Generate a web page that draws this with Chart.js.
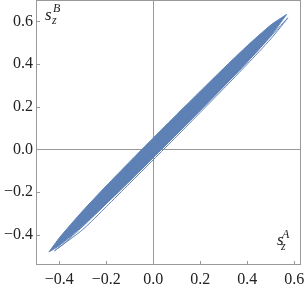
<!DOCTYPE html>
<html>
<head>
<meta charset="utf-8">
<script src="https://cdn.jsdelivr.net/npm/chart.js@4"></script>
<style>
	body { margin: 0; background: #fff; }
	#wrap { width: 306px; height: 290px; }
</style>
</head>
<body>
<div id="wrap"><canvas id="plot"></canvas></div>
<script>
// ticks
const xTicks = [-0.4, -0.2, 0.0, 0.2, 0.4, 0.6];
const yTicks = [-0.4, -0.2, 0.0, 0.2, 0.4, 0.6];

// dense core of the band (upper / lower edge)
const coreX = [-0.444, -0.40, -0.30, -0.20, -0.10, 0.00, 0.10, 0.20, 0.30, 0.40, 0.50, 0.568];
const coreUpperY = [-0.480, -0.414, -0.287, -0.170, -0.057, 0.054, 0.164, 0.273, 0.381, 0.486, 0.583, 0.633];
const coreLowerY = [-0.480, -0.450, -0.357, -0.254, -0.147, -0.038, 0.072, 0.183, 0.295, 0.410, 0.533, 0.633];

// thin outer loop below the core
const loopX = [-0.385, -0.42, -0.30, -0.20, -0.10, 0.00, 0.10, 0.20, 0.30, 0.40, 0.50, 0.573, 0.50, 0.40, 0.30, 0.20, 0.10, 0.00, -0.10, -0.20, -0.30, -0.385];
const loopY = [-0.445, -0.474, -0.375, -0.268, -0.158, -0.048, 0.062, 0.174, 0.286, 0.400, 0.518, 0.617, 0.530, 0.410, 0.297, 0.185, 0.074, -0.036, -0.146, -0.254, -0.360, -0.445];

// light streak inside the core
const streakX = [-0.35, -0.20, 0.00, 0.20, 0.40, 0.52];
const streakY = [-0.395, -0.242, -0.022, 0.198, 0.420, 0.560];

const blue = "rgb(94,129,181)";
const serif = "'Liberation Serif', 'DejaVu Serif', serif";

function pts(xs, ys) {
	return xs.map((x, i) => ({ x: x, y: ys[i] }));
}

function fmt(v) {
	return v.toFixed(1).replace("-", "\u2212");
}

// frame, inward ticks, axis labels
const framePlugin = {
	id: "frame",
	afterDraw(chart) {
		const ctx = chart.ctx;
		const a = chart.chartArea;
		const xs = chart.scales.x;
		const ys = chart.scales.y;
		ctx.save();
		ctx.strokeStyle = "#999";
		ctx.lineWidth = 1;
		ctx.strokeRect(Math.round(a.left) + 0.5, Math.round(a.top) + 0.5,
			Math.round(a.right - a.left) - 1, Math.round(a.bottom - a.top) - 1);
		ctx.beginPath();
		xTicks.forEach((v) => {
			let px = Math.round(xs.getPixelForValue(v)) + 0.5;
			ctx.moveTo(px, a.bottom - 1);
			ctx.lineTo(px, a.bottom - 4);
		});
		yTicks.forEach((v) => {
			let py = Math.round(ys.getPixelForValue(v)) + 0.5;
			ctx.moveTo(a.left + 1, py);
			ctx.lineTo(a.left + 4, py);
		});
		ctx.stroke();

		ctx.fillStyle = "#222";
		ctx.textBaseline = "alphabetic";
		ctx.font = "italic 17px " + serif;
		ctx.fillText("s", 45, 20);
		ctx.fillText("s", 277, 245);
		ctx.font = "italic 12px " + serif;
		ctx.fillText("B", 53, 12);
		ctx.fillText("z", 52, 24);
		ctx.fillText("A", 282, 238);
		ctx.fillText("z", 281, 250);
		ctx.restore();
	},
};

function drawChart() {
	const ctx = document.getElementById("plot").getContext("2d");
	const zeroLine = (c) => (c.tick && c.tick.value === 0 ? "#999" : "rgba(0,0,0,0)");

	new Chart(ctx, {
		type: "scatter",
		data: {
			datasets: [
				{
					data: pts(coreX, coreUpperY),
					showLine: true,
					fill: "+1",
					backgroundColor: blue,
					borderColor: blue,
					borderWidth: 1,
					pointRadius: 0,
					tension: 0.2,
				},
				{
					data: pts(coreX, coreLowerY),
					showLine: true,
					fill: false,
					borderColor: blue,
					borderWidth: 1,
					pointRadius: 0,
					tension: 0.2,
				},
				{
					data: pts(loopX, loopY),
					showLine: true,
					fill: false,
					borderColor: blue,
					borderWidth: 1,
					pointRadius: 0,
					tension: 0.2,
				},
				{
					data: pts(streakX, streakY),
					showLine: true,
					fill: false,
					borderColor: "rgba(255,255,255,0.6)",
					borderWidth: 0.8,
					pointRadius: 0,
					tension: 0.2,
				},
			],
		},
		options: {
			responsive: true,
			maintainAspectRatio: false,
			animation: false,
			layout: { padding: { top: 0, right: 5, left: 0, bottom: 0 } },
			plugins: { legend: { display: false }, tooltip: { enabled: false } },
			scales: {
				x: {
					type: "linear",
					min: -0.4991,
					max: 0.6286,
					afterBuildTicks: (s) => { s.ticks = xTicks.map((v) => ({ value: v })); },
					afterFit: (s) => { s.height = 25; s.paddingLeft = 0; s.paddingRight = 0; },
					border: { display: false },
					grid: { color: zeroLine, drawTicks: false, lineWidth: 1 },
					ticks: {
						padding: 5,
						maxRotation: 0,
						autoSkip: false,
						color: "#222",
						font: { family: serif, size: 16 },
						callback: (v) => fmt(v),
					},
				},
				y: {
					type: "linear",
					min: -0.541,
					max: 0.7002,
					afterBuildTicks: (s) => { s.ticks = yTicks.map((v) => ({ value: v })); },
					afterFit: (s) => { s.width = 36; s.paddingTop = 0; s.paddingBottom = 0; },
					border: { display: false },
					grid: { color: zeroLine, drawTicks: false, lineWidth: 1 },
					ticks: {
						padding: 3,
						autoSkip: false,
						color: "#222",
						font: { family: serif, size: 16 },
						callback: (v) => fmt(v),
					},
				},
			},
		},
		plugins: [framePlugin],
	});
}

document.addEventListener("DOMContentLoaded", drawChart);
</script>
</body>
</html>
